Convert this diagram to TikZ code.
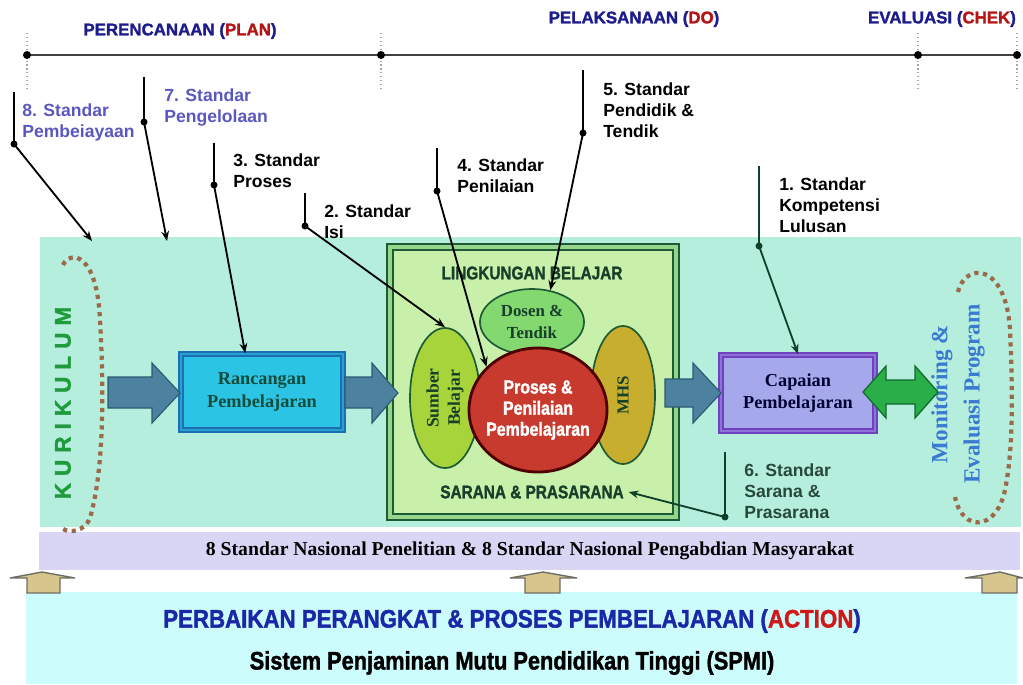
\documentclass[tikz,border=0pt]{standalone}
\usepackage{fontspec}
\setmainfont{Liberation Serif}
\setsansfont{Liberation Sans}
\newfontfamily\heavysans{Liberation Sans}[BoldFeatures={FakeBold=1.6}]
\usepackage{graphicx}
\usetikzlibrary{arrows.meta}
\usetikzlibrary{shapes.geometric}
\definecolor{phase-navy}{RGB}{28, 28, 140}
\definecolor{phase-red}{RGB}{180, 20, 20}
\definecolor{callout-violet}{RGB}{90, 88, 192}
\definecolor{callout-green}{RGB}{40, 72, 58}
\definecolor{lead-green}{RGB}{16, 64, 42}
\definecolor{bg-teal}{RGB}{182, 238, 222}
\definecolor{band-lilac}{RGB}{216, 214, 244}
\definecolor{action-cyan}{RGB}{204, 252, 252}
\definecolor{action-blue}{RGB}{26, 40, 168}
\definecolor{action-red}{RGB}{208, 24, 24}
\definecolor{env-fill}{RGB}{200, 240, 170}
\definecolor{env-dark}{RGB}{30, 90, 52}
\definecolor{env-mid}{RGB}{150, 214, 140}
\definecolor{text-green}{RGB}{23, 63, 42}
\definecolor{box-cyan}{RGB}{44, 196, 228}
\definecolor{box-blue}{RGB}{30, 110, 180}
\definecolor{box-lav}{RGB}{166, 168, 236}
\definecolor{box-purple}{RGB}{112, 64, 192}
\definecolor{dosen-green}{RGB}{132, 216, 112}
\definecolor{sumber-lime}{RGB}{166, 212, 58}
\definecolor{mhs-gold}{RGB}{200, 174, 46}
\definecolor{proses-red}{RGB}{200, 58, 46}
\definecolor{arrow-steel}{RGB}{76, 130, 160}
\definecolor{arrow-steel-dark}{RGB}{42, 90, 112}
\definecolor{arrow-green}{RGB}{42, 174, 74}
\definecolor{arrow-green-dark}{RGB}{16, 106, 42}
\definecolor{up-tan}{RGB}{214, 198, 142}
\definecolor{up-gray}{RGB}{110, 110, 100}
\definecolor{loop-brown}{RGB}{154, 106, 74}
\definecolor{kurikulum-green}{RGB}{31, 154, 60}
\definecolor{monev-blue}{RGB}{58, 122, 208}
\newcommand{\cond}[1]{\scalebox{0.84}[1]{#1}}
\tikzset{
  phase/.style={font=\heavysans\bfseries\fontsize{12}{14}\selectfont, text=phase-navy, inner sep=0},
  callout/.style={font=\sffamily\bfseries\fontsize{12.5}{15}\selectfont, align=left, anchor=north west, inner sep=0},
  lead/.style={line width=1.3pt},
  leadarrow/.style={lead, -{Stealth[length=7pt,width=5.5pt]}},
  tick/.style={draw=gray!70, dotted, line width=0.8pt},
  stdbox/.style={rectangle, line width=1.2pt, double distance=1.6pt, align=center,
    font=\bfseries\fontsize{13}{16}\selectfont},
  blob/.style={ellipse, line width=1.2pt, inner sep=0},
  blobtext/.style={font=\bfseries\fontsize{12}{15}\selectfont, text=text-green, align=center},
  envtext/.style={font=\heavysans\bfseries\fontsize{13}{15}\selectfont, text=text-green},
  blockarrow/.style={fill=arrow-steel, draw=arrow-steel-dark, line width=0.8pt},
  dualarrow/.style={fill=arrow-green, draw=arrow-green-dark, line width=0.9pt},
  uparrow/.style={fill=up-tan, draw=up-gray, line width=1pt},
  brownloop/.style={draw=loop-brown, line width=3pt, dash pattern=on 3pt off 3.2pt}
}
\begin{document}
\begin{tikzpicture}[x=0.025cm, y=-0.025cm]
\useasboundingbox (0,0) rectangle (1023,684);
% backgrounds
\fill[bg-teal] (40,237) rectangle (1021,527);
\fill[band-lilac] (39,532) rectangle (1020,570);
\fill[action-cyan] (26,592) rectangle (1017,684);
\node[font=\bfseries\fontsize{14}{16}\selectfont] (band) at (530,551) {8 Standar Nasional Penelitian \& 8 Standar Nasional Pengabdian Masyarakat};
\node[font=\heavysans\bfseries\fontsize{18}{20}\selectfont, text=action-blue] (action) at (512,621) {\scalebox{0.88}[1]{PERBAIKAN PERANGKAT \& PROSES PEMBELAJARAN (\textcolor{action-red}{ACTION})}};
\node[font=\heavysans\bfseries\fontsize{18}{20}\selectfont] (spmi) at (512,663) {\scalebox{0.86}[1]{Sistem Penjaminan Mutu Pendidikan Tinggi (SPMI)}};
% up arrows
\filldraw[uparrow] (27,593) -- (27,578) -- (10,578) -- (42,572) -- (75,578) -- (60,578) -- (60,593) -- cycle;
\filldraw[uparrow] (525,593) -- (525,578) -- (510,578) -- (543,572) -- (577,578) -- (560,578) -- (560,593) -- cycle;
\filldraw[uparrow] (982,593) -- (982,578) -- (965,578) -- (1000,572) -- (1023,578) -- (1017,578) -- (1017,593) -- cycle;
% dotted loops
\draw[brownloop] (63,265) .. controls (70,250) and (97,252) .. (100,320) .. controls (104,390) and (104,470) .. (90,518) .. controls (84,532) and (70,533) .. (63,529);
\draw[brownloop] (958,292) .. controls (965,262) and (1006,262) .. (1010,330) .. controls (1013,400) and (1013,450) .. (1005,490) .. controls (996,532) and (962,532) .. (955,497);
\node[rotate=90, font=\heavysans\bfseries\fontsize{16}{18}\selectfont, text=kurikulum-green] (kurikulum) at (63,403) {K\kern5pt U\kern5pt R\kern5pt I\kern5pt K\kern5pt U\kern5pt L\kern5pt U\kern5pt M};
\node[rotate=90, align=center, font=\bfseries\fontsize{16.5}{23}\selectfont, text=monev-blue] (monev) at (958,394) {Monitoring \&\\Evaluasi Program};
% learning environment
\node[draw=env-dark, line width=1.6pt, double=env-mid, double distance=2.5pt, fill=env-fill, minimum width=7.15cm, minimum height=6.75cm] (env) at (533,382) {};
\node[envtext] (lingkungan) at (532,273) {\cond{LINGKUNGAN BELAJAR}};
\node[envtext] (sarana) at (532,492) {\cond{SARANA \& PRASARANA}};
\node[blob, fill=dosen-green, draw=env-dark, minimum width=2.6cm, minimum height=1.65cm] (dosen) at (532,322) {};
\node[blobtext] at (dosen) {Dosen \&\\Tendik};
\node[blob, fill=sumber-lime, draw=env-dark, minimum width=1.75cm, minimum height=3.5cm] (sumber) at (445,398) {};
\node[blobtext, rotate=90, font=\bfseries\fontsize{12.5}{15}\selectfont] at (sumber) {Sumber\\Belajar};
\node[blob, fill=mhs-gold, draw=env-dark, minimum width=1.6cm, minimum height=3.45cm] (mhs) at (623,395) {};
\node[blobtext, rotate=90] at (mhs) {MHS};
\node[blob, fill=proses-red, draw=black!70!red, line width=2pt, minimum width=3.45cm, minimum height=3.1cm] (proses) at (538,410) {};
\node[align=center, text=white, font=\heavysans\bfseries\fontsize{13.5}{15}\selectfont] at (proses) {\cond{Proses \&}\\\cond{Penilaian}\\\cond{Pembelajaran}};
% plan and result
\node[stdbox, fill=box-cyan, draw=box-blue, double=box-cyan!60!box-blue, text=text-green!80!teal, minimum width=4.05cm, minimum height=1.9cm] (rancangan) at (262,392) {Rancangan\\Pembelajaran};
\node[stdbox, fill=box-lav, draw=box-purple, double=box-lav!50!box-purple, text=black!80!blue, minimum width=3.85cm, minimum height=1.9cm] (capaian) at (798,393) {Capaian\\Pembelajaran};
% block arrows
\filldraw[blockarrow] (108,377) -- (152,377) -- (152,363) -- (180,393) -- (152,423) -- (152,408) -- (108,408) -- cycle;
\filldraw[blockarrow] (345,377) -- (372,377) -- (372,363) -- (398,393) -- (372,423) -- (372,408) -- (345,408) -- cycle;
\filldraw[blockarrow] (665,379) -- (693,379) -- (693,363) -- (721,393) -- (693,423) -- (693,407) -- (665,407) -- cycle;
\filldraw[dualarrow] (863,392) -- (886,366) -- (886,380) -- (915,380) -- (915,366) -- (938,392) -- (915,418) -- (915,404) -- (886,404) -- (886,418) -- cycle;
% timeline
\draw[tick] (27,33) -- (27,90);
\draw[tick] (381,33) -- (381,90);
\draw[tick] (918,33) -- (918,90);
\draw[tick] (1017,33) -- (1017,90);
\coordinate (t1) at (27,55);
\coordinate (t2) at (381,55);
\coordinate (t3) at (918,55);
\coordinate (t4) at (1017,55);
\draw[line width=1.2pt, black!75] (t1) -- (t2) -- (t3) -- (t4);
\fill (t1) circle (4);
\fill (t2) circle (4);
\fill (t3) circle (4);
\fill (t4) circle (4);
\node[phase] (plan) at (180,31) {PERENCANAAN (\textcolor{phase-red}{PLAN})};
\node[phase] (do) at (634,19) {PELAKSANAAN (\textcolor{phase-red}{DO})};
\node[phase] (chek) at (942,19) {EVALUASI (\textcolor{phase-red}{CHEK})};
% standards
\coordinate (c8top) at (14,92);
\coordinate (c8dot) at (14,144);
\coordinate (c8tip) at (92,241);
\coordinate (c7top) at (144,77);
\coordinate (c7dot) at (144,122);
\coordinate (c7tip) at (167,241);
\coordinate (c3top) at (214,143);
\coordinate (c3dot) at (214,185);
\coordinate (c2top) at (305,193);
\coordinate (c2dot) at (305,226);
\coordinate (c4top) at (437,148);
\coordinate (c4dot) at (437,191);
\coordinate (c5top) at (583,70);
\coordinate (c5dot) at (583,133);
\coordinate (c1top) at (759,166);
\coordinate (c1dot) at (759,246);
\coordinate (c6top) at (725,452);
\coordinate (c6dot) at (725,517);
\node[callout, text=callout-violet] (s8) at (22,103) {8. Standar\\Pembeiayaan};
\node[callout, text=callout-violet] (s7) at (164,88) {7. Standar\\Pengelolaan};
\node[callout] (s3) at (233,153) {3. Standar\\Proses};
\node[callout] (s2) at (324,204) {2. Standar\\Isi};
\node[callout] (s4) at (457,158) {4. Standar\\Penilaian};
\node[callout] (s5) at (603,82) {5. Standar\\Pendidik \&\\Tendik};
\node[callout] (s1) at (779,177) {1. Standar\\Kompetensi\\Lulusan};
\node[callout, text=callout-green] (s6) at (744,463) {6. Standar\\Sarana \&\\Prasarana};
\draw[lead] (c8top) -- (c8dot);
\draw[leadarrow] (c8dot) -- (c8tip);
\fill (c8dot) circle (3.5);
\draw[lead] (c7top) -- (c7dot);
\draw[leadarrow] (c7dot) -- (c7tip);
\fill (c7dot) circle (3.5);
\draw[lead] (c3top) -- (c3dot);
\draw[leadarrow] (c3dot) -- ([xshift=-0.42cm]rancangan.north);
\fill (c3dot) circle (3.5);
\draw[lead] (c2top) -- (c2dot);
\draw[leadarrow] (c2dot) -- (sumber.north);
\fill (c2dot) circle (3.5);
\draw[lead] (c4top) -- (c4dot);
\draw[leadarrow] (c4dot) -- (proses.140);
\fill (c4dot) circle (3.5);
\draw[lead] (c5top) -- (c5dot);
\draw[leadarrow] (c5dot) -- (dosen.60);
\fill (c5dot) circle (3.5);
\draw[lead, lead-green] (c1top) -- (c1dot);
\draw[leadarrow, lead-green] (c1dot) -- (capaian.north);
\fill[lead-green] (c1dot) circle (3.5);
\draw[lead, lead-green] (c6top) -- (c6dot);
\draw[leadarrow, lead-green] (c6dot) -- (sarana.east);
\fill[lead-green] (c6dot) circle (3.5);
\end{tikzpicture}
\end{document}
